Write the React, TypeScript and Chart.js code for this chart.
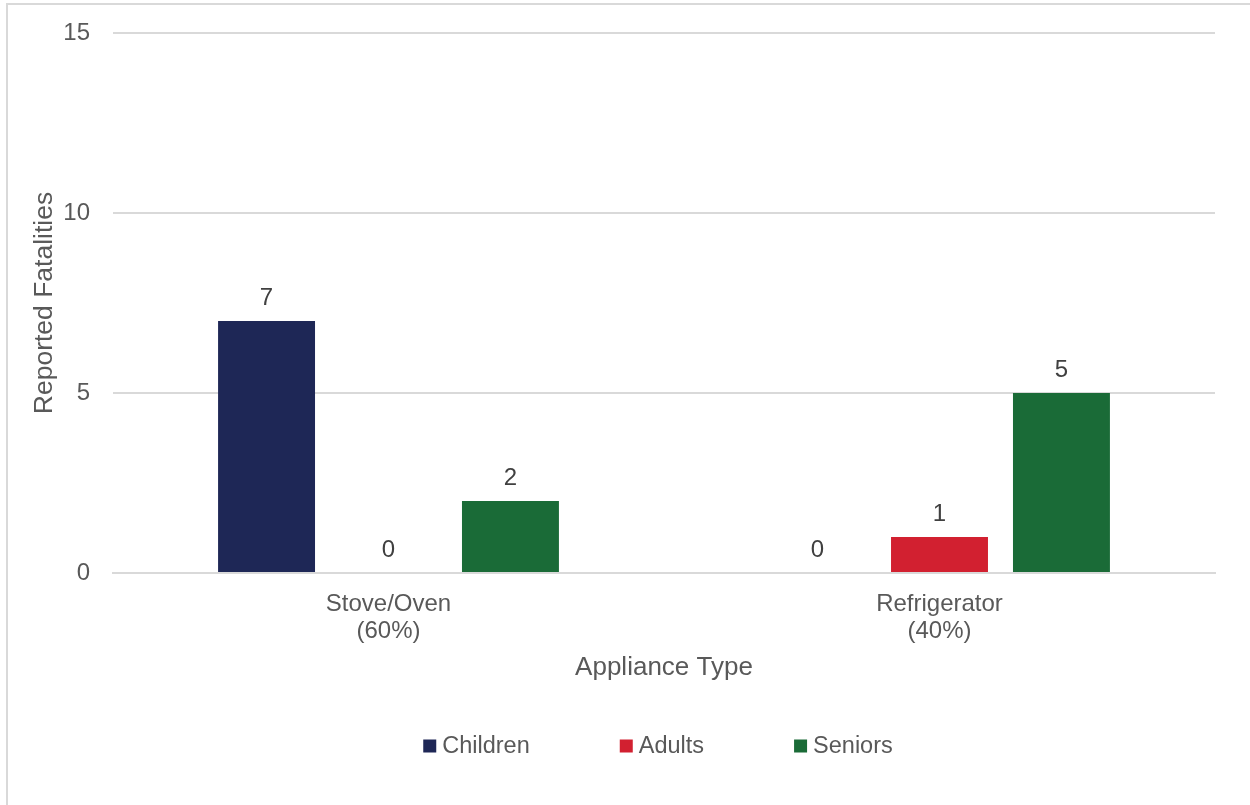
import React, { useEffect, useRef } from "react";
import { Chart, registerables } from "chart.js";

Chart.register(...registerables);

const categories: string[][] = [["Stove/Oven", "(60%)"], ["Refrigerator", "(40%)"]];
const seriesNames = ["Children", "Adults", "Seniors"];
const children = [7, 0];
const adults = [0, 1];
const seniors = [2, 5];
const seriesColors = ["#1E2756", "#D22030", "#1A6B37"];
const yTicks = [0, 5, 10, 15];

const FONT = "'Liberation Sans', Arial, sans-serif";
const TEXT = "#595959";

const valueLabels = {
  id: "valueLabels",
  afterDatasetsDraw(chart: any) {
    const ctx = chart.ctx;
    ctx.save();
    ctx.font = `24px ${FONT}`;
    ctx.fillStyle = "#404040";
    ctx.textAlign = "center";
    ctx.textBaseline = "alphabetic";
    chart.data.datasets.forEach((ds: any, di: number) => {
      const meta = chart.getDatasetMeta(di);
      meta.data.forEach((el: any, i: number) => {
        ctx.fillText(String(ds.data[i]), el.x, el.y - 16);
      });
    });
    ctx.restore();
  },
};

const bottomLegend = {
  id: "bottomLegend",
  afterDraw(chart: any) {
    const ctx = chart.ctx;
    const box = 13;
    const gap = 6;
    const itemGap = 90;
    const y = 746;
    ctx.save();
    ctx.font = `23.5px ${FONT}`;
    const items = chart.data.datasets.map((ds: any) => ({
      text: ds.label,
      color: ds.backgroundColor,
      w: box + gap + ctx.measureText(ds.label).width,
    }));
    const total = items.reduce((s: number, it: any) => s + it.w, 0) + itemGap * (items.length - 1);
    const ca = chart.chartArea;
    let x = (ca.left + ca.right) / 2 - 6 - total / 2;
    ctx.textBaseline = "middle";
    ctx.textAlign = "left";
    items.forEach((it: any) => {
      ctx.fillStyle = it.color;
      ctx.fillRect(x, y - box / 2, box, box);
      ctx.fillStyle = TEXT;
      ctx.fillText(it.text, x + box + gap, y + 1);
      x += it.w + itemGap;
    });
    ctx.restore();
  },
};

export default function App() {
  const ref = useRef<HTMLCanvasElement | null>(null);
  useEffect(() => {
    if (!ref.current) return;
    const data = [children, adults, seniors];
    const chart = new Chart(ref.current, {
      type: "bar",
      data: {
        labels: categories,
        datasets: seriesNames.map((n, i) => ({
          label: n,
          data: data[i],
          backgroundColor: seriesColors[i],
          borderWidth: 0,
          categoryPercentage: 0.664,
          barPercentage: 0.795,
        })),
      },
      options: {
        animation: false,
        responsive: false,
        maintainAspectRatio: false,
        layout: { padding: { left: 26, top: 33, right: 35, bottom: 82 } },
        plugins: {
          legend: { display: false },
          tooltip: { enabled: false },
        },
        scales: {
          x: {
            afterFit: (scale: any) => {
              scale.height = 150;
            },
            grid: { display: false, drawTicks: false },
            border: { color: "#D9D9D9", width: 2 },
            ticks: {
              color: TEXT,
              font: { family: FONT, size: 24, lineHeight: 1.125 },
              padding: 18,
              maxRotation: 0,
            },
            title: {
              display: true,
              text: "Appliance Type",
              color: TEXT,
              font: { family: FONT, size: 26 },
              padding: { top: 7, bottom: 40 },
            },
          },
          y: {
            min: 0,
            max: 15,
            afterBuildTicks: (scale: any) => {
              scale.ticks = yTicks.map((v) => ({ value: v }));
            },
            afterFit: (scale: any) => {
              scale.width = 87;
              scale.paddingTop = 0;
              scale.paddingBottom = 0;
            },
            grid: { color: "#D9D9D9", lineWidth: 2, drawTicks: false },
            border: { display: false },
            ticks: {
              color: TEXT,
              font: { family: FONT, size: 24 },
              padding: 23,
            },
            title: {
              display: true,
              text: "Reported Fatalities",
              color: TEXT,
              font: { family: FONT, size: 26.5 },
              padding: { top: 3, bottom: 4 },
            },
          },
        },
      },
      plugins: [valueLabels, bottomLegend],
    });
    return () => chart.destroy();
  }, []);

  return (
    <div style={{ position: "fixed", left: 0, top: 0, width: 1250, height: 805, background: "#fff" }}>
      <canvas ref={ref} width={1250} height={805} style={{ position: "absolute", left: 0, top: 0 }} />
      <div
        style={{
          position: "absolute",
          left: 6,
          top: 3,
          right: 0,
          bottom: 0,
          borderLeft: "2px solid #D9D9D9",
          borderTop: "2px solid #D9D9D9",
          pointerEvents: "none",
        }}
      />
    </div>
  );
}
